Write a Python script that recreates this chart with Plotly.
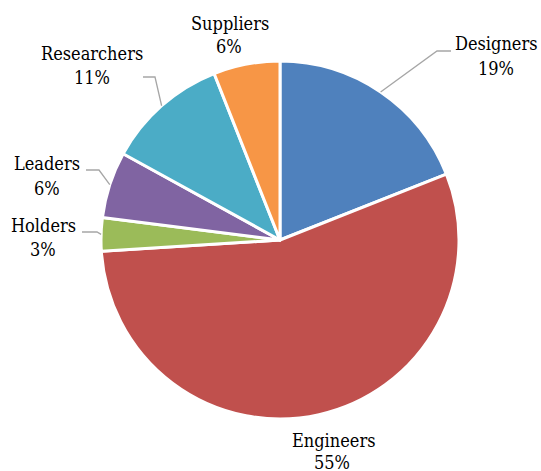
import math
import plotly.graph_objects as go

# ---- data ----
categories = ["Designers", "Engineers", "Holders", "Leaders", "Researchers", "Suppliers"]
values = [19, 55, 3, 6, 11, 6]
colors = ["#4F81BD", "#C0504D", "#9BBB59", "#8064A2", "#4BACC6", "#F79646"]

# ---- layout (pixels) ----
W, H = 541, 471
CX, CY, R = 280, 240, 179
FONT = "DejaVu Serif Condensed, DejaVu Serif"
FS = 18

label_pos = {
    "Designers": ((496, 44), (496, 69), [(451, 51), (437, 51)]),
    "Engineers": ((333, 440), (332, 462), None),
    "Holders": ((43, 225), (43, 249), [(82, 232), (97, 232)]),
    "Leaders": ((47, 164), (47, 188), [(86, 170), (99, 170)]),
    "Researchers": ((92, 54), (92, 78), [(143, 77), (155, 77)]),
    "Suppliers": ((230, 24), (229, 47), None),
}

def px(x):
    return x / W

def py(y):
    return 1 - y / H

fig = go.Figure(go.Pie(
    labels=categories,
    values=values,
    sort=False,
    direction="clockwise",
    rotation=0,
    marker=dict(colors=colors, line=dict(color="white", width=3)),
    textinfo="none",
    hoverinfo="label+percent",
    showlegend=False,
    domain=dict(x=[px(CX - R), px(CX + R)], y=[py(CY + R), py(CY - R)]),
))

total = sum(values)
cum = 0
annotations = []
shapes = []
for name, v in zip(categories, values):
    mid = (cum + v / 2) / total * 2 * math.pi
    cum += v
    pct = round(v / total * 100)
    (nx, ny), (qx, qy), elbow = label_pos[name]
    annotations.append(dict(x=px(nx), y=py(ny), xref="paper", yref="paper",
                            text=name, showarrow=False, xanchor="center", yanchor="middle",
                            font=dict(family=FONT, size=FS, color="black")))
    annotations.append(dict(x=px(qx), y=py(qy), xref="paper", yref="paper",
                            text=f"{pct}%", showarrow=False, xanchor="center", yanchor="middle",
                            font=dict(family=FONT, size=FS, color="black")))
    if elbow:
        ex = CX + R * math.sin(mid)
        ey = CY - R * math.cos(mid)
        pts = elbow + [(ex, ey)]
        path = "M " + " L ".join(f"{px(x)},{py(y)}" for x, y in pts)
        shapes.append(dict(type="path", path=path, xref="paper", yref="paper",
                           line=dict(color="#A6A6A6", width=1.3)))

fig.update_layout(
    width=W, height=H,
    margin=dict(l=0, r=0, t=0, b=0),
    paper_bgcolor="white", plot_bgcolor="white",
    annotations=annotations,
    shapes=shapes,
)

fig.write_html("out.html")
